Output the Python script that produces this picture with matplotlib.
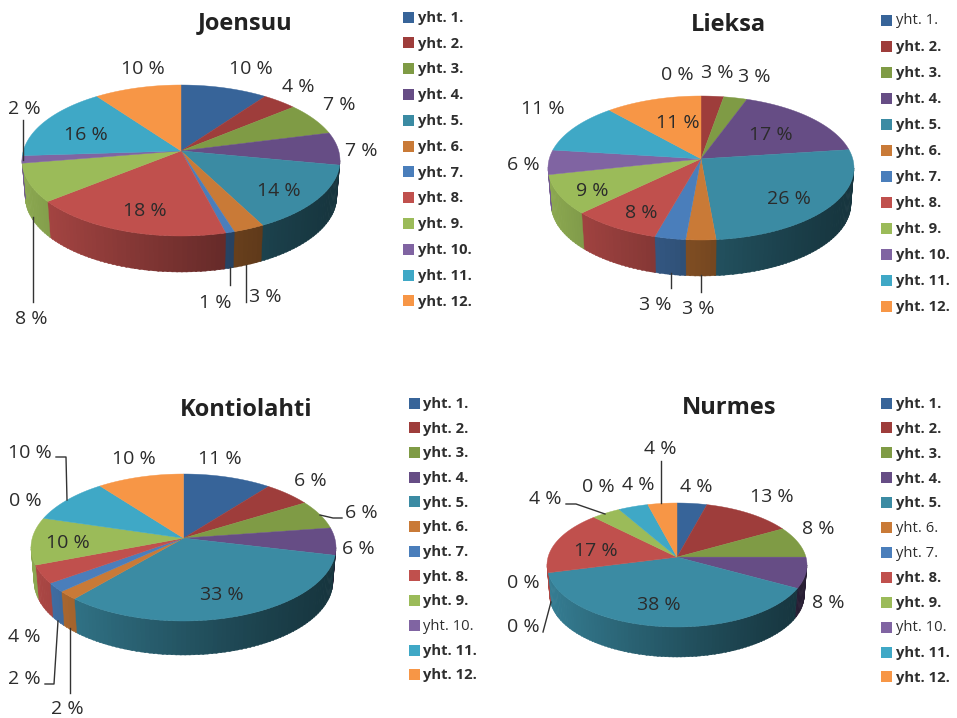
import numpy as np
import matplotlib
matplotlib.use("Agg")
import matplotlib.pyplot as plt
from matplotlib.colors import to_rgb

categories = ["yht. 1.", "yht. 2.", "yht. 3.", "yht. 4.", "yht. 5.", "yht. 6.",
              "yht. 7.", "yht. 8.", "yht. 9.", "yht. 10.", "yht. 11.", "yht. 12."]
# Estimated shares read from the slice boundaries; labels show them rounded.
joensuu = [10, 4, 7, 7, 14.4, 2.8, 0.8, 18.2, 8.2, 1.6, 16.0, 10]
lieksa = [0, 2.7, 2.8, 17.4, 25.7, 2.8, 2.9, 8.4, 8.8, 5.5, 11.49, 11.49]
kontiolahti = [10.6, 5.7, 6.4, 6.0, 32.6, 1.9, 2.0, 4.0, 10.4, 0, 10.0, 10.4]
nurmes = [4.2, 12.6, 8.2, 8, 38, 0, 0, 16.6, 4.1, 0, 4.2, 4.1]

colors = ["#376499", "#9e3d3b", "#7f9b45", "#664d85", "#3b8ba3", "#c97a37",
          "#4a7ebb", "#c0504d", "#9bbb59", "#8064a2", "#3fa8c6", "#f79646"]

FONT = "Open Sans"
INK = "#2b2b2b"
K = 0.88
BOTTOM_SCALE = 0.98

layout = [
    dict(name="Joensuu", vals=joensuu, title=(245, 21), cx=181, rx=159, top=85, front=236, depth=36,
         leg=(403, 418, 17, 25.8),
         plain=[],
         pos=[(251, 67), (298, 86), (339, 103), (361, 150), (279, 189), (265, 295), (215, 301),
              (145, 210), (31, 318), (24, 107), (86, 133), (143, 67)],
         lines=[[(23, 120), (23, 160)], [(33, 217), (33, 302)], [(230, 267), (230, 285)], [(246, 265), (246, 302)]]),
    dict(name="Lieksa", vals=lieksa, title=(728, 23), cx=701, rx=153, top=96, front=240, depth=36,
         leg=(881, 896, 20, 26.0),
         plain=[0],
         pos=[(677, 74), (717, 71), (754, 76), (771, 134), (789, 198), (698, 307), (655, 304),
              (641, 211), (592, 189), (523, 163), (543, 108), (678, 122)],
         lines=[[(671, 273), (671, 288)], [(701, 275), (701, 292)]]),
    dict(name="Kontiolahti", vals=kontiolahti, title=(246, 408), cx=183.5, rx=152.5, top=474, front=621, depth=34,
         leg=(409, 423, 403, 24.7),
         plain=[9],
         pos=[(220, 457), (310, 479), (361, 511), (358, 547), (222, 593), (67, 708), (24, 678),
              (24, 635), (68, 542), (25, 499), (30, 451), (134, 457)],
         lines=[[(56, 457), (66, 457), (67, 500)], [(320, 515), (333, 518), (342, 518)],
                [(45, 684), (54, 684), (58, 621)], [(70, 628), (70, 693)]]),
    dict(name="Nurmes", vals=nurmes, title=(729, 406), cx=677, rx=130, top=503, front=627, depth=30,
         leg=(881, 896, 403, 24.9),
         plain=[5, 6, 9],
         pos=[(696, 486), (772, 496), (818, 527), (828, 601), (659, 604), (523, 626), (523, 582),
              (596, 549), (545, 498), (598, 486), (638, 484), (660, 448)],
         lines=[[(661, 461), (661, 503)], [(566, 504), (576, 504), (605, 514)], [(543, 632), (551, 602)]]),
]

fig = plt.figure(figsize=(9.57, 7.18), dpi=100, facecolor="white")
ax = fig.add_axes([0, 0, 1, 1])
ax.set_xlim(0, 957)
ax.set_ylim(718, 0)
ax.axis("off")


def warp(theta):
    return 2 * np.arctan2(K * np.sin(theta / 2), np.cos(theta / 2))


def draw_pie(p):
    vals = np.array(p["vals"], float)
    edges = np.concatenate([[0], np.cumsum(vals)]) / vals.sum() * 2 * np.pi
    cx, rx = p["cx"], p["rx"]
    ry = (p["front"] - p["top"]) / 2
    cy = p["top"] + ry
    apex_y = p["top"] + 2 * ry * K**2 / (1 + K**2)

    def rim(phi):
        return cx + rx * np.sin(phi), cy - ry * np.cos(phi)

    # side wall, shaded left to right, front half only
    for i, c in enumerate(colors):
        if vals[i] == 0:
            continue
        a, b = warp(edges[i]), warp(edges[i + 1])
        if b <= a:
            b += 2 * np.pi
        a2, b2 = max(a, np.pi / 2), min(b, 3 * np.pi / 2)
        if b2 <= a2:
            continue
        n = max(2, int((b2 - a2) / 0.03))
        grid = np.linspace(a2, b2, n + 1)
        base = np.array(to_rgb(c))
        for g0, g1 in zip(grid[:-1], grid[1:]):
            mid = (g0 + g1) / 2
            t = (1 - np.sin(mid)) / 2  # 0 right, 1 left
            shade = 0.38 + 0.52 * t**1.2
            col = np.clip(base * shade, 0, 1)
            ph = np.array([g0, g1 + 0.01])
            x, y = rim(ph)
            xbot = cx + (x - cx) * BOTTOM_SCALE
            ybot = y + p["depth"]
            ax.fill(np.r_[x, xbot[::-1]], np.r_[y, ybot[::-1]], color=col, lw=0.3, ec=col, zorder=2)

    # top surface
    for i, c in enumerate(colors):
        if vals[i] == 0:
            continue
        a, b = warp(edges[i]), warp(edges[i + 1])
        if b <= a:
            b += 2 * np.pi
        ph = np.linspace(a, b, 80)
        x, y = rim(ph)
        ax.fill(np.r_[cx, x], np.r_[apex_y, y], color=c, lw=0.3, ec=c, zorder=3)

    # data labels
    for v, (lx, ly) in zip(p["vals"], p["pos"]):
        ax.text(lx, ly + 1.5, f"{round(v)} %", ha="center", va="center", family=FONT, fontsize=14,
                color=INK, zorder=6)
    for seg in p["lines"]:
        xs, ys = zip(*seg)
        ax.plot(xs, ys, color="#333333", lw=1.0, zorder=5)

    # title
    tx, ty = p["title"]
    ax.text(tx, ty + 2, p["name"], ha="center", va="center", family=FONT, fontsize=17,
            fontweight="bold", color="#222222", zorder=6)

    # legend
    sx, lx, y0, step = p["leg"]
    for i, (lab, c) in enumerate(zip(categories, colors)):
        y = y0 + i * step
        ax.fill([sx, sx + 11, sx + 11, sx], [y - 5.5, y - 5.5, y + 5.5, y + 5.5], color=c, lw=0, zorder=4)
        ax.text(lx, y + 0.8, lab, ha="left", va="center", family=FONT, fontsize=10.6,
                fontweight="normal" if i in p["plain"] else "bold", color="#2e2e2e", zorder=6)


for p in layout:
    draw_pie(p)

fig.savefig("out.png", dpi=100, facecolor="white")
